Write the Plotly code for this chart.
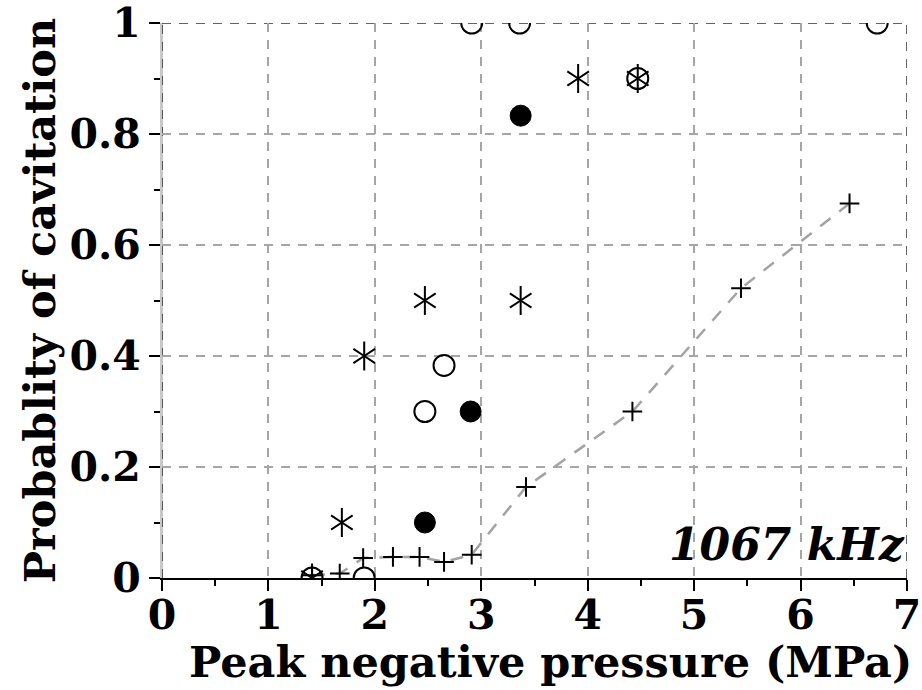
import plotly.graph_objects as go

# Open circles
oc_x = [1.41, 1.90, 2.47, 2.65, 2.91, 3.36, 4.47, 6.72]
oc_y = [0.0, 0.0, 0.30, 0.383, 1.0, 1.0, 0.90, 1.0]

# Filled circles
fc_x = [2.47, 2.90, 3.37]
fc_y = [0.10, 0.30, 0.833]

# Asterisks
as_x = [1.41, 1.69, 1.90, 2.47, 3.37, 3.91, 4.47]
as_y = [0.0, 0.10, 0.40, 0.50, 0.50, 0.90, 0.90]

# Plus markers with dashed line
pl_x = [1.41, 1.67, 1.89, 2.17, 2.42, 2.65, 2.91, 3.42, 4.42, 5.44, 6.46]
pl_y = [0.005, 0.008, 0.036, 0.038, 0.038, 0.029, 0.042, 0.164, 0.300, 0.522, 0.675]

x_ticks = [0, 1, 2, 3, 4, 5, 6, 7]
y_ticks = [0, 0.2, 0.4, 0.6, 0.8, 1]
y_ticklabels = ["0", "0.2", "0.4", "0.6", "0.8", "1"]

FONT = "DejaVu Serif"
TICK_SIZE = 41
TITLE_SIZE = 43

fig = go.Figure()

fig.add_trace(go.Scatter(
    x=pl_x, y=pl_y, mode="lines",
    line=dict(color="#a3a3a3", width=2.5, dash="13px,11px"),
    hoverinfo="skip", showlegend=False))
fig.add_trace(go.Scatter(
    x=pl_x, y=pl_y, mode="markers",
    marker=dict(symbol="cross-thin-open", size=14, color="black",
                line=dict(color="black", width=2)),
    showlegend=False))
fig.add_trace(go.Scatter(
    x=oc_x, y=oc_y, mode="markers",
    marker=dict(symbol="circle-open", size=21, color="black",
                line=dict(color="black", width=2)),
    showlegend=False))
fig.add_trace(go.Scatter(
    x=fc_x, y=fc_y, mode="markers",
    marker=dict(symbol="circle", size=21, color="black",
                line=dict(color="black", width=1)),
    showlegend=False))
for sym in ["y-up-open", "y-down-open"]:
    fig.add_trace(go.Scatter(
        x=as_x, y=as_y, mode="markers",
        marker=dict(symbol=sym, size=18, color="black",
                    line=dict(color="black", width=2)),
        showlegend=False))

fig.add_annotation(
    x=1, xref="paper", y=0.06, yref="y",
    text="<b><i>1067 kHz</i></b>", showarrow=False,
    xanchor="right", yanchor="middle",
    font=dict(family=FONT, size=44, color="black"))

# x-axis title placed as annotation (slightly right of centre, as in reference)
fig.add_annotation(
    x=0.522, xref="paper", y=-0.199, yref="paper",
    text="<b>Peak negative pressure (MPa)</b>", showarrow=False,
    xanchor="center", yanchor="bottom", borderpad=0,
    font=dict(family=FONT, size=TITLE_SIZE, color="black"))

# frame: light solid left edge, dark dashes on left, top and right edges
fig.add_shape(type="line", xref="x", yref="y", x0=0, x1=0, y0=0, y1=1,
              line=dict(color="#c8c8c8", width=2), layer="below")
for (x0, x1, y0, y1) in [(0, 0, 0, 1), (0, 7, 1, 1), (7, 7, 0, 1)]:
    fig.add_shape(type="line", xref="x", yref="y", x0=x0, x1=x1, y0=y0, y1=y1,
                  line=dict(color="#303030", width=1.5, dash="9px,8px"),
                  layer="below")

fig.update_xaxes(
    range=[0, 7], tickvals=x_ticks, ticktext=[str(v) for v in x_ticks],
    showgrid=True, gridcolor="#a6a6a6", gridwidth=1.5, griddash="9px,8px",
    showline=True, linecolor="black", linewidth=2,
    ticks="outside", ticklen=11, tickwidth=1.5, tickcolor="black",
    minor=dict(dtick=0.5, tick0=0, ticks="outside", ticklen=6, tickwidth=1.5,
               tickcolor="black", showgrid=False),
    zeroline=False, automargin=False, ticklabeloverflow="allow",
    ticklabelstandoff=-11,
    tickfont=dict(family=FONT, size=TICK_SIZE, color="black", weight="bold"),
)
fig.update_yaxes(
    range=[0, 1], tickvals=y_ticks, ticktext=y_ticklabels,
    showgrid=True, gridcolor="#a6a6a6", gridwidth=1.5, griddash="9px,8px",
    showline=True, linecolor="#c8c8c8", linewidth=2,
    ticks="outside", ticklen=11, tickwidth=1.5, tickcolor="black",
    minor=dict(dtick=0.1, tick0=0, ticks="outside", ticklen=6, tickwidth=1.5,
               tickcolor="black", showgrid=False),
    zeroline=False, automargin=False, ticklabeloverflow="allow",
    tickfont=dict(family=FONT, size=TICK_SIZE, color="black", weight="bold"),
    title=dict(text="<b>Probablity of cavitation</b>",
               font=dict(family=FONT, size=TITLE_SIZE, color="black"), standoff=0),
)

fig.update_layout(
    width=922, height=690,
    margin=dict(l=162, r=15, t=23, b=112, autoexpand=False),
    paper_bgcolor="white", plot_bgcolor="white",
    showlegend=False,
)

fig.write_html("out.html")
